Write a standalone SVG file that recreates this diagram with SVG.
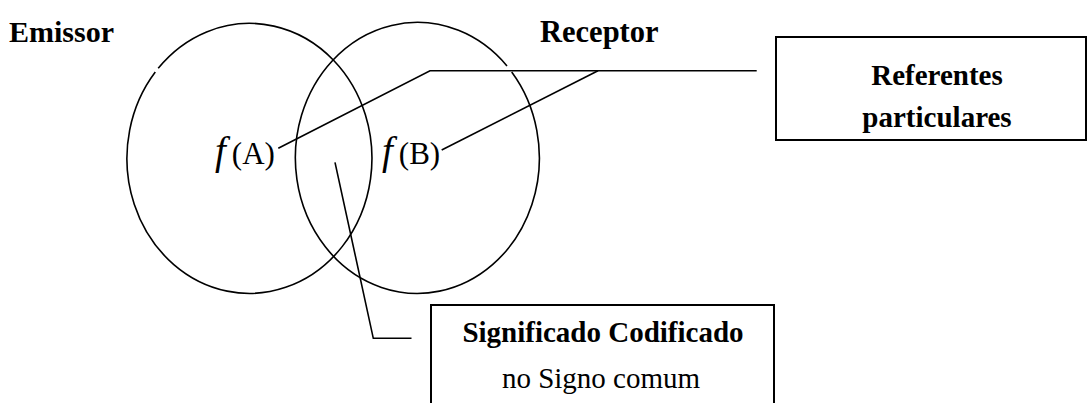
<svg xmlns="http://www.w3.org/2000/svg" width="1087" height="403" viewBox="0 0 1087 403">
<style>
.t{font-family:"Liberation Serif","Times New Roman",serif;fill:#000}
.b{font-weight:bold;font-size:29px}
.r{font-size:29px}
.fi{font-style:italic;font-size:39px}
.fa{font-size:31px}
.ln{fill:none;stroke:#000;stroke-width:1.6}
.bx{fill:none;stroke:#000;stroke-width:2}
</style>
<rect width="1087" height="403" fill="#fff"/>
<g id="emissor-circle">
<path class="ln" d="M 158.2 68.3 A 122.5 135 0 1 1 155.3 72"/>
<text class="t b" x="9" y="42" style="font-size:30px">Emissor</text>
<text class="t" x="215" y="164"><tspan class="fi">f</tspan><tspan class="fa" dx="6">(A)</tspan></text>
</g>
<g id="receptor-circle">
<path class="ln" d="M 511.7 72 A 122 135.5 0 1 1 507 66"/>
<text class="t b" x="540" y="42" style="font-size:30.5px">Receptor</text>
<text class="t" x="382" y="164"><tspan class="fi">f</tspan><tspan class="fa" dx="6">(B)</tspan></text>
</g>
<g id="referentes">
<rect class="bx" x="776" y="37" width="310" height="103"/>
<text class="t b" x="937" y="85" text-anchor="middle">Referentes</text>
<text class="t b" x="937" y="127" text-anchor="middle">particulares</text>
</g>
<g id="significado">
<rect class="bx" x="431" y="305" width="343" height="110"/>
<text class="t b" x="603" y="342" text-anchor="middle">Significado Codificado</text>
<text class="t r" x="601" y="388" text-anchor="middle">no Signo comum</text>
</g>
<g id="connectors">
<polyline class="ln" points="278.3,148.3 430,70.7 756.7,70.7"/>
<line class="ln" x1="441.7" y1="150" x2="598" y2="70.7"/>
<polyline class="ln" points="335,162.3 373.3,338.3 411.5,338.3"/>
</g>
</svg>
